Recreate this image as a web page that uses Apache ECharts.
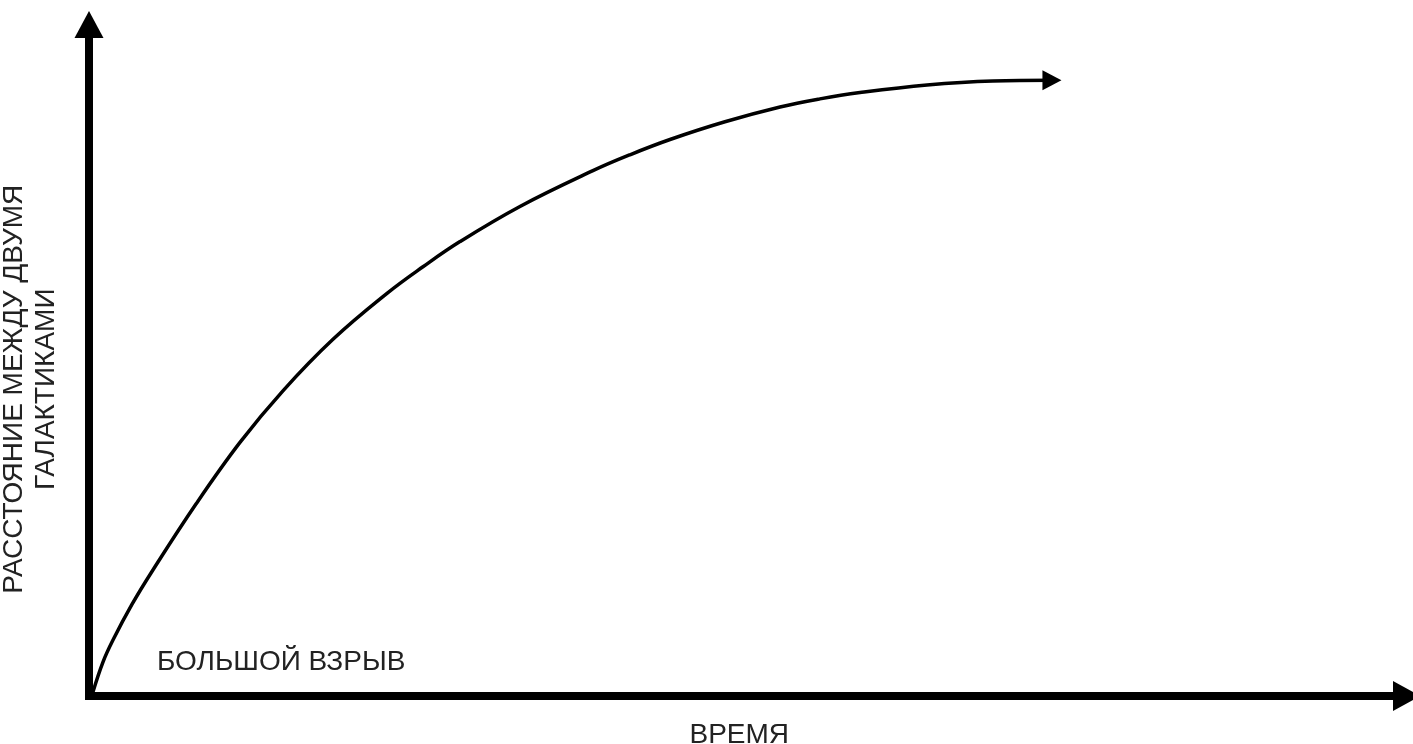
<!DOCTYPE html>
<html>
<head>
<meta charset="utf-8">
<script src="https://cdn.jsdelivr.net/npm/echarts@6/dist/echarts.min.js"></script>
<style>
html,body{margin:0;padding:0;background:#fff;}
#chart{width:1413px;height:744px;}
</style>
</head>
<body>
<div id="chart"></div>
<script>
// Abstract units: time 0..100, distance 0..100
var timeValues = [0.30, 1.06, 1.82, 3.26, 4.78, 8.12, 11.46, 14.72, 18.52, 22.62, 25.35, 28.16, 32.71, 38.25, 41.06, 44.10, 48.27, 52.45, 55.48, 58.52, 63.61, 68.61, 73.09];
var distanceValues = [0.60, 5.06, 8.34, 13.63, 18.54, 28.59, 37.77, 45.45, 53.12, 59.96, 63.92, 67.67, 72.90, 78.23, 80.60, 82.87, 85.51, 87.71, 88.92, 89.86, 91.00, 91.59, 91.69];
var xAxisName = 'ВРЕМЯ';
var yAxisName = 'РАССТОЯНИЕ МЕЖДУ ДВУМЯ\nГАЛАКТИКАМИ';
var annotationText = 'БОЛЬШОЙ ВЗРЫВ';

var fontFamily = '"Liberation Sans", Arial, sans-serif';
var textColor = '#222';

var seriesData = timeValues.map(function (t, i) {
  var item = { value: [t, distanceValues[i]] };
  if (i === timeValues.length - 1) {
    item.symbol = 'triangle';
    item.symbolSize = [20, 19];
    item.symbolRotate = -90;
  }
  return item;
});

var chart = echarts.init(document.getElementById('chart'));
chart.setOption({
  animation: false,
  backgroundColor: '#fff',
  grid: { left: 89, right: 6.5, top: 24.5, bottom: 48, containLabel: false, outerBoundsMode: 'none' },
  xAxis: {
    type: 'value', min: 0, max: 100,
    name: xAxisName, nameLocation: 'middle', nameGap: 25,
    nameTextStyle: { fontFamily: fontFamily, fontSize: 28, color: textColor, verticalAlign: 'top', padding: [0, 17, 0, 0] },
    axisLine: { show: true, onZero: false, symbol: ['none', 'triangle'], symbolSize: [30, 27],
      lineStyle: { color: '#000', width: 8, cap: 'square' } },
    axisTick: { show: false }, axisLabel: { show: false }, splitLine: { show: false }
  },
  yAxis: {
    type: 'value', min: 0, max: 100,
    name: yAxisName, nameLocation: 'middle', nameGap: 27, nameRotate: 90,
    nameTextStyle: { fontFamily: fontFamily, fontSize: 28, lineHeight: 32, color: textColor, padding: [0, 58, 0, 0] },
    axisLine: { show: true, onZero: false, symbol: ['none', 'triangle'], symbolSize: [29, 27],
      lineStyle: { color: '#000', width: 8, cap: 'square' } },
    axisTick: { show: false }, axisLabel: { show: false }, splitLine: { show: false }
  },
  graphic: [{
    type: 'text', left: 157, top: 648,
    style: { text: annotationText, font: '28px ' + fontFamily, fill: textColor }
  }],
  series: [{
    type: 'line',
    data: seriesData,
    smooth: 0.4,
    symbol: 'none',
    showSymbol: true,
    lineStyle: { color: '#000', width: 3.5 },
    itemStyle: { color: '#000' },
    emphasis: { disabled: true },
    silent: true
  }]
});
</script>
</body>
</html>
